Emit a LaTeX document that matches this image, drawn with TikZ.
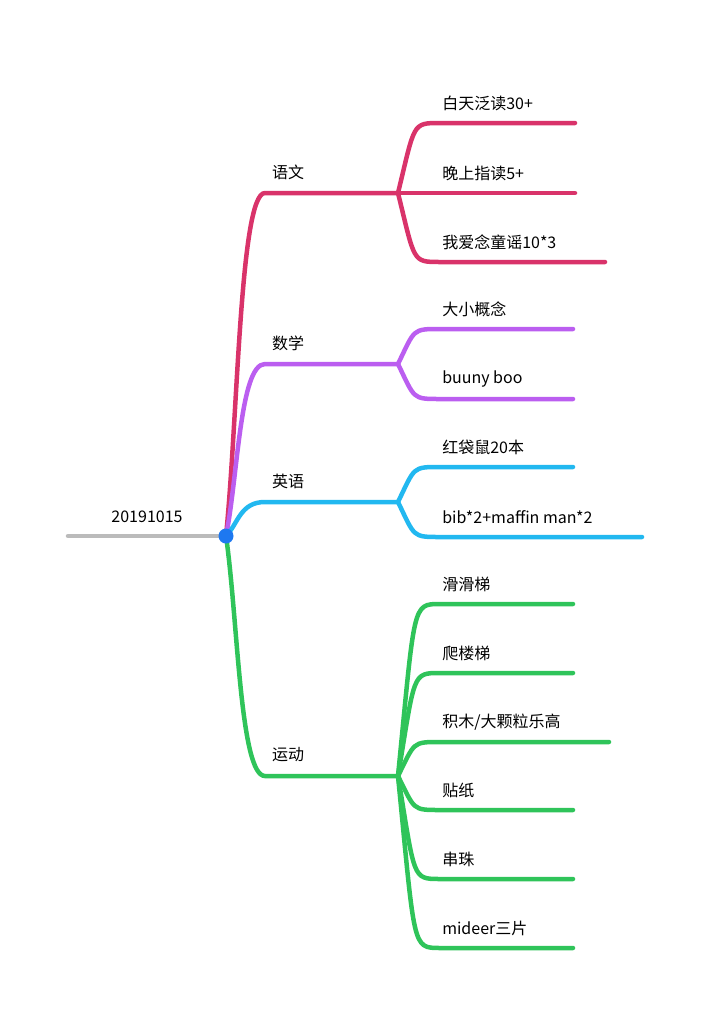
\documentclass[tikz,border=0pt]{standalone}
\usepackage{fontspec}
\setmainfont{Noto Sans CJK SC}
\begin{document}
\begin{tikzpicture}[x=1pt,y=-1pt,line width=4.5pt,line cap=round,
  lab/.style={anchor=west,inner sep=0pt,font=\fontsize{16}{18}\selectfont},
  slab/.style={anchor=center,inner sep=0pt,font=\fontsize{16}{18}\selectfont}]
\definecolor{cy}{HTML}{D9336A}\definecolor{cs}{HTML}{BB5EF0}
\definecolor{ce}{HTML}{22B8F0}\definecolor{cd}{HTML}{2FC45A}
\definecolor{cg}{HTML}{BBBBBB}\definecolor{cr}{HTML}{1E78F0}
\useasboundingbox (0,0) rectangle (709,1018);
\coordinate (root) at (226,536);
\coordinate (rl) at (68,536);
\draw[cg] (rl) -- (root);
\node[slab] (rt) at (147,517) {20191015};
% main branches
\foreach \c/\y/\t/\n in {cy/193/语文/a, cs/364/数学/b, ce/502/英语/c, cd/776/运动/d}{
  \coordinate (\n0) at (265,\y);
  \coordinate (\n1) at (398,\y);
  \draw[\c] (root) .. controls (238,{536+(\y-536)*0.35}) and (240,\y) .. (\n0) -- (\n1);
  \node[slab] (\n t) at (288,{\y-21}) {\t};
}
% children
\foreach \p/\c/\y/\e/\t [count=\i] in {
  a/cy/123/575/白天泛读30+, a/cy/193/575/晚上指读5+, a/cy/262/605/我爱念童谣10*3,
  b/cs/329/573/大小概念, b/cs/399/573/buuny boo,
  c/ce/467/573/红袋鼠20本, c/ce/537/642/bib*2+maffin man*2,
  d/cd/604/573/滑滑梯, d/cd/673/573/爬楼梯, d/cd/742/609/{积木/大颗粒乐高},
  d/cd/810/573/贴纸, d/cd/879/573/串珠, d/cd/948/573/mideer三片}{
  \coordinate (s\i) at (440,\y);
  \coordinate (e\i) at (\e,\y);
  \draw[\c] (\p1) .. controls (415,{\y}) and (412,\y) .. (s\i) -- (e\i);
  \node[lab] (t\i) at (440,{\y-20}) {\t};
}
\fill[cr] (root) circle (7.5);
\end{tikzpicture}
\end{document}
